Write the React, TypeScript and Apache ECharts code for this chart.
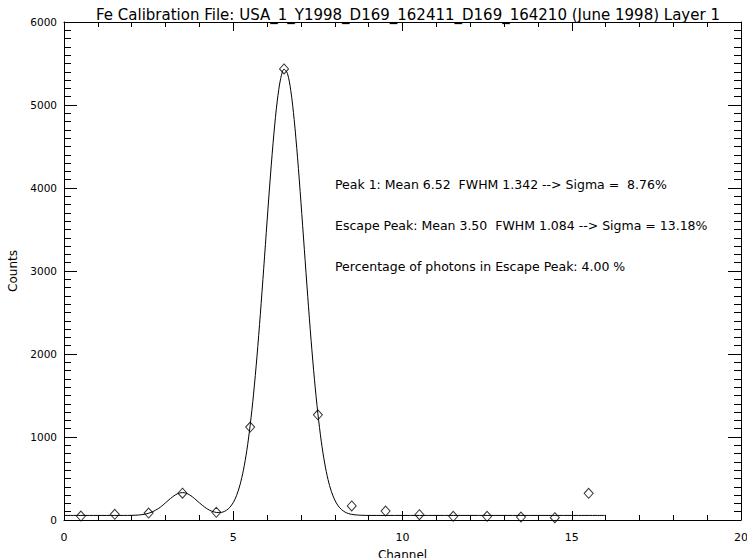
import React, { useEffect, useRef } from "react";
import * as echarts from "echarts";

const TITLE = "Fe Calibration File: USA_1_Y1998_D169_162411_D169_164210 (June 1998) Layer 1";
const X_NAME = "Channel";
const Y_NAME = "Counts";

// Measured channel counts (diamonds)
const pointX = [0.5, 1.5, 2.5, 3.5, 4.5, 5.5, 6.5, 7.5, 8.5, 9.5, 10.5, 11.5, 12.5, 13.5, 14.5, 15.5];
const pointY = [48, 69, 84, 323, 93, 1120, 5434, 1267, 170, 108, 64, 44, 44, 36, 28, 322];

// Fitted curve
const curveX = [
  0, 0.5, 1, 1.5, 2, 2.2, 2.4, 2.6, 2.8,
  2.9, 3.0, 3.1, 3.2, 3.3, 3.4, 3.5, 3.6, 3.7, 3.8, 3.9, 4.0, 4.1, 4.2, 4.3, 4.4, 4.5, 4.6, 4.7, 4.8,
  4.9, 5.0, 5.1, 5.2, 5.3, 5.4, 5.5, 5.6, 5.7, 5.8,
  5.9, 6.0, 6.1, 6.2, 6.3, 6.4, 6.5, 6.6, 6.7, 6.8,
  6.9, 7.0, 7.1, 7.2, 7.3, 7.4, 7.5, 7.6, 7.7, 7.8,
  7.9, 8.0, 8.1, 8.2, 8.3, 8.4, 8.5, 8.6, 8.8, 9.0,
  10, 11, 12, 13, 14, 15, 16,
];
const curveY = [
  55, 55, 55, 55, 56, 60, 71, 96, 141,
  172, 207, 243, 277, 305, 324, 330, 324, 305, 277, 243, 207, 173, 142, 118, 101, 91, 89, 97, 117,
  153, 210, 297, 424, 600, 836, 1141, 1517, 1966, 2478,
  3032, 3604, 4156, 4651, 5049, 5317, 5432, 5382, 5173, 4823,
  4363, 3829, 3261, 2696, 2165, 1689, 1282, 949, 686, 487,
  342, 240, 170, 125, 96, 78, 68, 62, 57, 55,
  55, 55, 55, 55, 55, 55, 55,
];

const annotations = [
  "Peak 1: Mean 6.52  FWHM 1.342 --> Sigma =  8.76%",
  "Escape Peak: Mean 3.50  FWHM 1.084 --> Sigma = 13.18%",
  "Percentage of photons in Escape Peak: 4.00 %",
];

const FONT = "'DejaVu Sans', sans-serif";

export default function App() {
  const ref = useRef<HTMLDivElement>(null);
  useEffect(() => {
    document.body.style.margin = "0";
    const chart = echarts.init(ref.current!, undefined, { renderer: "svg" });
    const axisCommon: any = {
      type: "value",
      axisLine: { show: true, onZero: false, lineStyle: { color: "#000", width: 1 } },
      splitLine: { show: false },
    };
    const xBase: any = {
      ...axisCommon,
      min: 0,
      max: 20,
      interval: 5,
      axisTick: { show: true, inside: true, length: 9, lineStyle: { color: "#000", width: 1 } },
      minorTick: { show: true, splitNumber: 5, length: 5, lineStyle: { color: "#000", width: 1 } },
    };
    const yBase: any = {
      ...axisCommon,
      min: 0,
      max: 6000,
      interval: 1000,
      axisTick: { show: true, inside: true, length: 13, lineStyle: { color: "#000", width: 1 } },
      minorTick: { show: true, splitNumber: 10, length: 7, lineStyle: { color: "#000", width: 1 } },
    };
    chart.setOption({
      animation: false,
      backgroundColor: "#fff",
      textStyle: { fontFamily: FONT },
      title: {
        text: TITLE,
        left: 403,
        textAlign: "center",
        top: 2,
        textStyle: { fontFamily: FONT, fontSize: 15, fontWeight: "normal", color: "#000" },
      },
      grid: { left: 64, right: 6, top: 22, bottom: 38, containLabel: false, outerBoundsMode: "none" },
      xAxis: [
        {
          ...xBase,
          position: "bottom",
          name: X_NAME,
          nameLocation: "middle",
          nameGap: 29,
          nameTextStyle: { fontFamily: FONT, fontSize: 12, color: "#000" },
          axisLabel: { show: true, margin: 12, fontSize: 11, color: "#000", fontFamily: FONT, formatter: (v: number) => String(v) },
        },
        { ...xBase, position: "top", axisLabel: { show: false } },
      ],
      yAxis: [
        {
          ...yBase,
          position: "left",
          name: Y_NAME,
          nameLocation: "middle",
          nameGap: 42,
          nameRotate: 90,
          nameTextStyle: { fontFamily: FONT, fontSize: 12, color: "#000" },
          axisLabel: { show: true, margin: 7, fontSize: 10.5, color: "#000", fontFamily: FONT, formatter: (v: number) => String(v) },
        },
        { ...yBase, position: "right", axisLabel: { show: false } },
      ],
      series: [
        {
          type: "line",
          data: curveX.map((x, i) => [x, curveY[i]]),
          smooth: 0.3,
          showSymbol: false,
          symbol: "none",
          lineStyle: { color: "#000", width: 1 },
          z: 2,
        },
        {
          type: "scatter",
          data: pointX.map((x, i) => [x, pointY[i]]),
          symbol: "diamond",
          symbolSize: [9, 10],
          itemStyle: { color: "rgba(255,255,255,0)", borderColor: "#000", borderWidth: 1 },
          z: 3,
        },
      ],
      graphic: annotations.map((t, i) => ({
        type: "text",
        left: 335,
        top: 178 + i * 41,
        style: { text: t, fontFamily: FONT, fontSize: 12.5, fill: "#000" },
      })),
    });
    return () => chart.dispose();
  }, []);
  return <div ref={ref} style={{ width: 747, height: 558 }} />;
}
